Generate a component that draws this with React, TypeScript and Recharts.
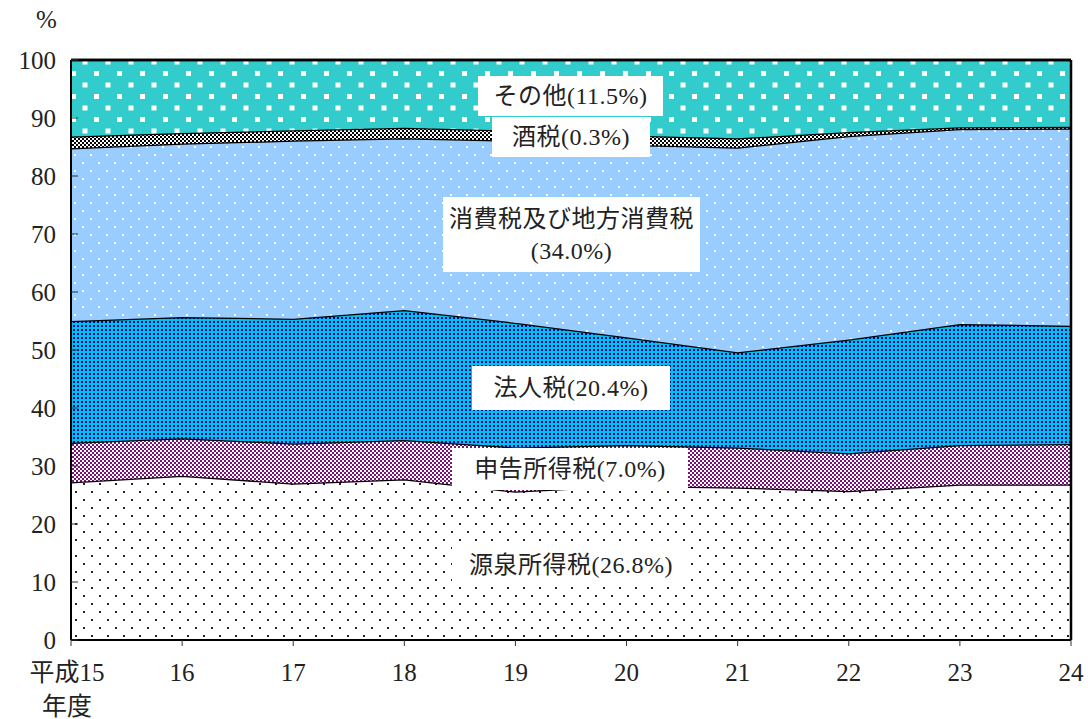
import { AreaChart, Area, XAxis, YAxis, ReferenceLine } from 'recharts';

// 年度 (平成)
const years = ['15', '16', '17', '18', '19', '20', '21', '22', '23', '24'];

// 構成比 (%)
const withholdingTax = [27.2, 28.3, 27.0, 27.7, 25.6, 26.6, 26.3, 25.7, 26.8, 26.8];
const selfAssessedTax = [6.8, 6.5, 6.9, 6.8, 7.6, 7.0, 6.9, 6.5, 6.8, 7.0];
const corporationTax = [21.0, 20.9, 21.5, 22.4, 21.5, 18.6, 16.4, 19.6, 20.9, 20.4];
const consumptionTax = [29.8, 29.9, 30.7, 29.6, 31.4, 33.2, 35.3, 35.1, 33.6, 34.0];
const liquorTax = [2.0, 1.8, 1.8, 1.8, 1.7, 1.6, 1.6, 0.7, 0.3, 0.3];
const otherTax = [13.2, 12.6, 12.1, 11.7, 12.2, 13.0, 13.5, 12.4, 11.6, 11.5];

const yTicks = [0, 10, 20, 30, 40, 50, 60, 70, 80, 90, 100];

const data = years.map((year, i) => ({
  year,
  withholding: withholdingTax[i],
  selfAssessed: selfAssessedTax[i],
  corporation: corporationTax[i],
  consumption: consumptionTax[i],
  liquor: liquorTax[i],
  other: otherTax[i],
}));

const FONT = '"Liberation Serif", "Noto Sans CJK JP", serif';
const TICK_SIZE = 25;

const XTick = (props: any) => {
  const { x, y, payload } = props;
  if (payload.value === '15') {
    return (
      <g>
        <text x={x - 4} y={y + 33} textAnchor="middle" fontSize={TICK_SIZE} fill="#222" fontFamily={FONT}>平成15</text>
        <text x={x - 4} y={y + 67} textAnchor="middle" fontSize={TICK_SIZE} fill="#222" fontFamily={FONT}>年度</text>
      </g>
    );
  }
  return (
    <text x={x} y={y + 33} textAnchor="middle" fontSize={TICK_SIZE} fill="#222" fontFamily={FONT}>{payload.value}</text>
  );
};

// 凡例ラベル（白抜きボックス）
const labels = [
  { lines: ['その他(11.5%)'], left: 478, top: 76, width: 185, height: 40 },
  { lines: ['酒税(0.3%)'], left: 492, top: 117, width: 158, height: 40 },
  { lines: ['消費税及び地方消費税', '(34.0%)'], left: 443, top: 197, width: 257, height: 75 },
  { lines: ['法人税(20.4%)'], left: 472, top: 366, width: 198, height: 44 },
  { lines: ['申告所得税(7.0%)'], left: 452, top: 448, width: 236, height: 42 },
  { lines: ['源泉所得税(26.8%)'], left: 452, top: 544, width: 238, height: 42 },
];

export default function App() {
  return (
    <div style={{ position: 'absolute', left: 0, top: 0, width: 1088, height: 719, background: '#fff', fontFamily: FONT }}>
      <AreaChart
        width={1088}
        height={719}
        data={data}
        margin={{ top: 60, right: 17, bottom: 19, left: 11 }}
      >
        <defs>
          <pattern id="p-other" width="23" height="23" patternUnits="userSpaceOnUse">
            <rect width="23" height="23" fill="#33CCCC" />
            <rect x="2" y="2" width="5" height="5" fill="#fff" />
            <rect x="13.5" y="13.5" width="5" height="5" fill="#fff" />
          </pattern>
          <pattern id="p-liquor" width="4" height="4" patternUnits="userSpaceOnUse">
            <rect width="4" height="4" fill="#fff" />
            <rect x="0" y="0" width="2" height="2" fill="#000" />
            <rect x="2" y="2" width="2" height="2" fill="#000" />
          </pattern>
          <pattern id="p-consumption" width="16" height="16" patternUnits="userSpaceOnUse">
            <rect width="16" height="16" fill="#99CCFF" />
            <rect x="2" y="2" width="2" height="2" fill="#fff" />
            <rect x="10" y="10" width="2" height="2" fill="#fff" />
          </pattern>
          <pattern id="p-corporation" width="4" height="4" patternUnits="userSpaceOnUse">
            <rect width="4" height="4" fill="#00C0F0" />
            <rect x="1" y="1" width="2" height="2" fill="#000080" />
          </pattern>
          <pattern id="p-self" width="4" height="4" patternUnits="userSpaceOnUse">
            <rect width="4" height="4" fill="#fff" />
            <rect x="0" y="0" width="2" height="2" fill="#7A127A" />
            <rect x="2" y="2" width="2" height="2" fill="#7A127A" />
          </pattern>
          <pattern id="p-withholding" width="16" height="16" patternUnits="userSpaceOnUse">
            <rect width="16" height="16" fill="#fff" />
            <rect x="3" y="3" width="2" height="2" fill="#222" />
            <rect x="11" y="11" width="2" height="2" fill="#222" />
          </pattern>
        </defs>

        <Area type="linear" dataKey="withholding" stackId="1" stroke="#000" strokeWidth={2.5} fill="url(#p-withholding)" fillOpacity={1} isAnimationActive={false} />
        <Area type="linear" dataKey="selfAssessed" stackId="1" stroke="#000" strokeWidth={2.5} fill="url(#p-self)" fillOpacity={1} isAnimationActive={false} />
        <Area type="linear" dataKey="corporation" stackId="1" stroke="#000" strokeWidth={2.5} fill="url(#p-corporation)" fillOpacity={1} isAnimationActive={false} />
        <Area type="linear" dataKey="consumption" stackId="1" stroke="#000" strokeWidth={2.5} fill="url(#p-consumption)" fillOpacity={1} isAnimationActive={false} />
        <Area type="linear" dataKey="liquor" stackId="1" stroke="#000" strokeWidth={2.5} fill="url(#p-liquor)" fillOpacity={1} isAnimationActive={false} />
        <Area type="linear" dataKey="other" stackId="1" stroke="#000" strokeWidth={2.5} fill="url(#p-other)" fillOpacity={1} isAnimationActive={false} />

        <ReferenceLine x="24" stroke="#000" strokeWidth={2.5} />
        <ReferenceLine y={100} stroke="#000" strokeWidth={2.5} />

        <XAxis
          dataKey="year"
          interval={0}
          height={60}
          tick={<XTick />}
          tickLine={{ stroke: '#333' }}
          axisLine={{ stroke: '#000', strokeWidth: 2 }}
          tickSize={6}
        />
        <YAxis
          type="number"
          domain={[0, 100]}
          ticks={yTicks}
          interval={0}
          width={60}
          tickSize={-7}
          tickMargin={22}
          tickLine={{ stroke: '#333' }}
          axisLine={{ stroke: '#000', strokeWidth: 2 }}
          tick={{ fontSize: TICK_SIZE, fill: '#222', fontFamily: FONT }}
        />
      </AreaChart>

      <div style={{ position: 'absolute', left: 36, top: 6, fontSize: TICK_SIZE, color: '#222' }}>%</div>

      {labels.map((l) => (
        <div
          key={l.lines[0]}
          style={{
            position: 'absolute',
            left: l.left,
            top: l.top,
            width: l.width,
            height: l.height,
            background: '#fff',
            color: '#222',
            fontSize: 24,
            lineHeight: l.lines.length > 1 ? '32px' : `${l.height}px`,
            letterSpacing: '0.5px',
            textAlign: 'center',
            display: 'flex',
            flexDirection: 'column',
            justifyContent: 'center',
            whiteSpace: 'nowrap',
          }}
        >
          {l.lines.map((t) => (
            <div key={t}>{t}</div>
          ))}
        </div>
      ))}
    </div>
  );
}
